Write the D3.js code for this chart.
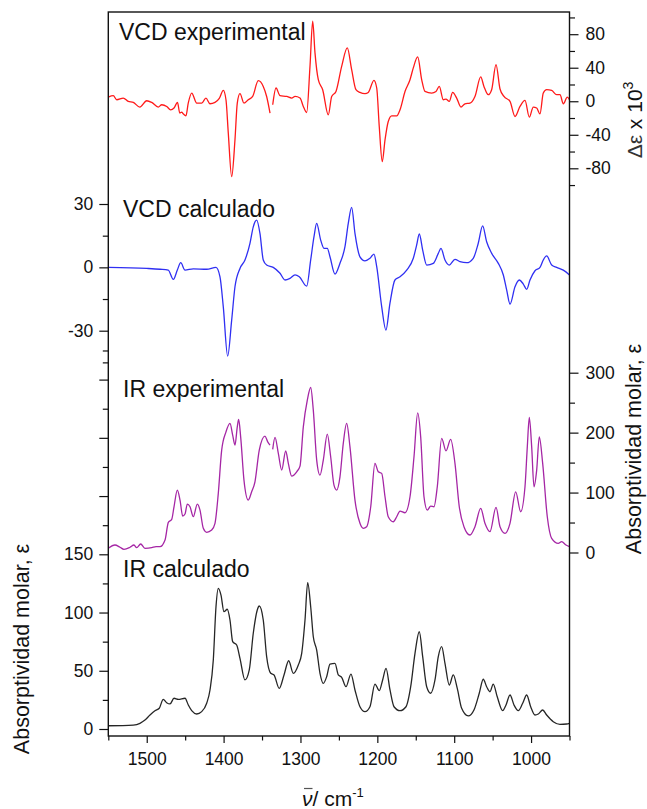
<!DOCTYPE html>
<html>
<head>
<meta charset="utf-8">
<script src="https://cdn.jsdelivr.net/npm/d3@7"></script>
<style>
  html, body { margin: 0; padding: 0; background: #fff; }
  svg { display: block; font-family: "Liberation Sans", Arial, Helvetica, sans-serif; }
</style>
</head>
<body>
<svg id="chart" width="647" height="809"></svg>
<script>
// Spectra as [wavenumber (cm-1), value]; a null value marks a break in the trace.
const vcdExperimental = [
  [1550,5],[1543.5,6.6],[1539,1.8],[1530.5,3.8],[1524,-0.2],[1517.5,-1.4],[1509,-6.9],[1500,0.6],
  [1493.5,-1.4],[1485,-6.9],[1480.5,-4.2],[1474,-6.2],[1469,-10.2],[1464.5,-8.1],[1460,-1.4],
  [1457,-14.1],[1454.5,-12.9],[1452.5,-15],[1449,-17.4],[1446,-2.2],[1441.5,9.8],[1435,-2.2],
  [1428.5,-2.2],[1423,3.8],[1417.7,-3],[1411.2,-1.4],[1405.6,3.4],[1400.4,12.9],[1396.9,1.8],
  [1393.9,-38],[1389.5,-90],[1385.2,-46],[1382.2,-2.2],[1378.7,9],[1373.5,-2.2],[1367.9,1.8],
  [1362.2,5.7],[1354.9,24.5],[1348.4,17.7],[1344,5.7],[1339.6,-14.1],[1338,null],[1336.1,-4.2],
  [1331.8,15.8],[1326.6,6.6],[1317.9,5.7],[1311.4,3.8],[1307.1,5.7],[1300.6,3.8],[1296.3,-6.2],
  [1291.9,-13.4],[1287.6,41.7],[1284.1,95.6],[1281.1,57.7],[1276.8,25.7],[1271.1,13.8],
  [1263.8,-16.2],[1259.4,5.7],[1253.8,11.7],[1246.4,41.7],[1239.1,63.7],[1233.4,37.7],
  [1227.8,13.8],[1222.6,10.5],[1216.1,9],[1211.8,10.5],[1204.4,24.9],[1200.8,15.8],
  [1197.5,-30.2],[1193.6,-72],[1190,-46],[1185.8,-24.2],[1181.3,-17.4],[1174.8,-17.4],
  [1170.5,-10.2],[1164,11.7],[1157.5,25.7],[1153.2,39.8],[1147.5,52.9],[1142.3,25.7],[1138,11.7],
  [1129.3,9.8],[1123.7,11.7],[1119.4,17.7],[1114.2,1.8],[1110.7,2.6],[1106.4,-0.2],[1102,10.5],
  [1096.8,3.8],[1091.2,-6.9],[1086,-3],[1079.5,-2.2],[1073,5.7],[1065.5,29],[1061.3,17.7],
  [1055.7,7.8],[1051.3,13.8],[1045.6,43.7],[1040.4,14.6],[1035.2,5.7],[1027.4,-0.2],
  [1020.9,-18.2],[1014.4,-6.2],[1007.9,1],[1002.3,-18.9],[997.1,-6.9],[992.7,-8.1],[988.4,-15],
  [984.1,9.8],[979.7,13.8],[973.2,12.9],[966.7,7.8],[962.4,7.8],[958,-3],[952.9,5],[950,1.8]
];

const vcdCalculated = [
  [1550,0],[1500,-0.5],[1482.7,-0.9],[1472,-1.3],[1465.4,-5.7],[1460.2,-1.3],[1455.8,2.2],
  [1450.2,-1.3],[1439.4,-0.7],[1422,-0.9],[1409.9,0],[1404.7,-4.5],[1400.4,-18.7],[1394.7,-42],
  [1389.5,-25],[1385.2,-9.2],[1378.7,-0.5],[1372.2,3.5],[1365.7,11.4],[1361.4,19.2],[1357,22.4],
  [1352.7,16.1],[1348.4,3.5],[1344,1.1],[1335.4,0],[1326.6,-2.8],[1320.1,-6],[1313.6,-5.2],
  [1307.1,-3.6],[1301.5,-4.5],[1291.9,-8.9],[1286.7,3.5],[1282.4,14.5],[1278.9,20.8],
  [1273.7,12.9],[1269.4,9],[1265.1,9],[1261.6,5],[1255.1,-3.2],[1248.6,1.9],[1242.1,9.8],
  [1237.8,20.8],[1233.4,28.4],[1229.1,16.1],[1222.6,5],[1216.1,3.1],[1209.6,4.3],[1204.4,6.3],
  [1200.8,0.3],[1194.3,-18.7],[1188.8,-29.7],[1183.6,-17.1],[1177.1,-6],[1170.5,-4.5],
  [1161.8,-1.3],[1153.2,4.3],[1148.8,10.6],[1145.4,15.8],[1141,8.2],[1135.8,1.1],[1127.2,1.9],
  [1120.7,6.6],[1117.2,9],[1112,3.5],[1106.4,1.1],[1099,3.8],[1092.5,2.7],[1083.8,2.2],
  [1075.2,4.3],[1068.7,11.4],[1063,19.6],[1057.8,12.1],[1051.2,6.6],[1042.6,1.9],[1036.1,-3.6],
  [1031.7,-10.8],[1027.4,-17.4],[1020.9,-9.2],[1015.3,-6],[1010.1,-7.9],[1005.7,-10.4],
  [1001.4,-6],[994.9,-1.6],[988.4,0],[984.1,3.5],[979.7,5.4],[973.2,1.1],[966.7,0],[958.1,-1.3],
  [950,-3.6]
];

const irExperimental = [
  [1550,7],[1541.3,12.5],[1534.8,8.7],[1529.6,5.3],[1521.8,8.7],[1516.6,12.5],[1513.1,8],
  [1507.9,14.2],[1502.3,7],[1493.5,8],[1487.9,9.7],[1482.7,9.7],[1476.2,20.8],[1471.9,50.3],
  [1467.5,55.3],[1464.5,76.3],[1460.2,104],[1456.7,87.5],[1453.2,60.8],[1450.2,64.2],
  [1447.2,80.8],[1443.7,76.3],[1439.4,59.7],[1434.2,80.8],[1430.7,70.8],[1426.4,40.3],
  [1422,33.7],[1415.5,37.5],[1411.2,48.7],[1406.9,98.7],[1402.5,170.8],[1396.9,201.3],
  [1391.7,215.3],[1388.2,195.8],[1385.2,179.2],[1382.2,209.7],[1380.4,222],[1377.8,193],
  [1373.5,120.8],[1367.9,87.5],[1363.5,101.3],[1359.2,118],[1353.6,170.8],[1346.2,194.2],
  [1342.6,184.7],[1339.6,179.2],[1338,null],[1336.1,172],[1333.1,192],[1328.8,165.3],
  [1324.4,137.5],[1319.2,169.7],[1315.8,148.7],[1311.4,127.5],[1304.9,134.7],[1300.6,144.2],
  [1296.3,209.7],[1291.1,254.2],[1286.7,275.3],[1283.3,237.5],[1278.9,154.2],[1274.6,129.2],
  [1270.3,154.2],[1265.1,197.5],[1260.7,159.7],[1256.4,112.5],[1252.9,104.2],[1248.6,126.3],
  [1244.3,182],[1239.9,215.3],[1235.6,176.3],[1229.1,87.5],[1222.6,48.7],[1218.3,40.3],
  [1213.9,43],[1208.6,76.3],[1203.1,148.7],[1198.8,134.7],[1194.3,132],[1190,93],[1185.8,59.7],
  [1179.2,51.3],[1174.8,59.7],[1170.5,69.2],[1164,66.3],[1157.5,93],[1152.3,159.7],[1147.5,233],
  [1143.6,193],[1139.3,93],[1135,70.8],[1130.6,77.5],[1126.3,76.3],[1122,109.7],[1116.3,190.3],
  [1110.7,169.7],[1104.6,188.7],[1099,148.7],[1093.4,76.3],[1087.3,43],[1079.5,29.2],[1073,43],
  [1065.5,73.7],[1060,48.7],[1053.5,34.7],[1045.6,75.3],[1040.4,43],[1033.9,32],[1027.4,48.7],
  [1020,101.3],[1013.5,68],[1007.9,109.7],[1004.9,176.3],[1002.3,225.3],[999.2,176.3],
  [996.2,109.7],[992.7,137.5],[989.3,193],[984.9,148.7],[978.9,59.7],[973.2,23.7],[964.6,15.3],
  [960.2,18],[954.6,12.5],[950,9.7]
];

const irCalculated = [
  [1550,2.8],[1517.5,3.4],[1508.8,4.9],[1502.3,7.7],[1495.8,12],[1489.3,15.7],[1483.7,17.8],
  [1478.5,25.5],[1474.1,22.6],[1469.7,21.5],[1464.5,26.4],[1458.9,25.5],[1450.2,26.4],
  [1445.9,20.6],[1441.5,15.7],[1435,12.9],[1428.5,14.9],[1422,22.1],[1417.7,33.5],[1413.4,59.2],
  [1409.9,105],[1406.9,120.8],[1403.4,115],[1399.5,100.7],[1395.2,102.8],[1391.7,93.6],
  [1388.2,75],[1383,72.1],[1378.7,60.7],[1372.2,42.1],[1366.6,50.7],[1361.4,82.2],[1356.2,102.2],
  [1353.6,105.6],[1348.4,93.6],[1344,62.1],[1338.7,47.8],[1334.4,46.4],[1327.6,34.9],
  [1321.4,46.4],[1315.3,58.6],[1309.3,47.8],[1302.8,55],[1298.4,65],[1294.1,93.6],[1290.6,125.6],
  [1286.7,105],[1283.3,79.2],[1278.9,67.8],[1274.6,47.8],[1270.3,39.2],[1265.9,44.9],
  [1261.6,55.8],[1255.1,56.4],[1250.8,46.4],[1246.4,44.4],[1240.8,36.3],[1234.3,47.2],
  [1229.1,33.5],[1222.6,19.1],[1216.1,14.9],[1209.6,19.1],[1203.1,38.6],[1197.5,32.9],
  [1193.1,42.1],[1188.7,52.1],[1183.5,33.5],[1178.3,19.1],[1170.5,15.7],[1162.7,19.1],
  [1156.6,36.3],[1151,65],[1145.4,83.5],[1141,62.1],[1135.8,36.3],[1130.6,30.7],[1125,42.1],
  [1120.7,62.1],[1116.3,70.7],[1112,56.4],[1106.4,37.8],[1101.2,46.4],[1096,34.9],[1090.3,17.8],
  [1081.7,11.2],[1074.3,16.3],[1067.4,30.7],[1062.2,42.7],[1057.8,36.3],[1053.5,32],
  [1049.2,38.6],[1044,27.7],[1036.9,15.7],[1032.6,20.6],[1027.4,29.2],[1022.2,20.6],
  [1016.6,15.7],[1010.9,22.1],[1005.7,29.2],[1000.5,19.1],[994.9,12],[990.6,12.9],[984.9,16.3],
  [979.7,12],[971.1,6.3],[962.4,4],[953.7,4.3],[950,4.9]
];

// Tick values
const wavenumberTicks = [1500, 1400, 1300, 1200, 1100, 1000];
const wavenumberMinorTicks = [1550, 1450, 1350, 1250, 1150, 1050, 950];
const vcdExpTicks = [-80, -40, 0, 40, 80];
const vcdExpMinorTicks = [-100, -60, -20, 20, 60, 100];
const vcdCalcTicks = [-30, 0, 30];
const vcdCalcMinorTicks = [-45, -15, 15];
const irExpTicks = [0, 100, 200, 300];
const irExpMinorTicks = [50, 150, 250];
const irCalcTicks = [0, 50, 100, 150];
const irCalcUnlabeledTicks = [200, 250, 300];
const irCalcMinorTicks = [25, 75, 125, 175, 225, 275, 325];

const panelTitles = ["VCD experimental", "VCD calculado", "IR experimental", "IR calculado"];

// ---------------------------------------------------------------
const svg = d3.select("#chart");
const frame = { left: 108.3, right: 569.5, top: 12, bottom: 736 };
const ink = "#111";
const fontTick = 17.5;

const x = d3.scaleLinear().domain([1550, 950]).range([frame.left, frame.right]);

const yVcdExp  = d3.scaleLinear().domain([-80, 80]).range([168.3, 34.2]);
const yVcdCalc = d3.scaleLinear().domain([-30, 30]).range([330.7, 204]);
const yIrExp   = d3.scaleLinear().domain([0, 300]).range([552.5, 372.7]);
const yIrCalc  = d3.scaleLinear().domain([0, 150]).range([729, 554.3]);

const traces = [
  { data: vcdExperimental, y: yVcdExp,  color: "#ff1a1a" },
  { data: vcdCalculated,   y: yVcdCalc, color: "#2f2ff2" },
  { data: irExperimental,  y: yIrExp,   color: "#a526a5" },
  { data: irCalculated,    y: yIrCalc,  color: "#262626" }
];

// Spectral traces
traces.forEach(t => {
  const line = d3.line()
    .defined(d => d[1] !== null)
    .x(d => x(d[0]))
    .y(d => t.y(d[1]))
    .curve(d3.curveMonotoneX);
  svg.append("path")
    .datum(t.data)
    .attr("fill", "none")
    .attr("stroke", t.color)
    .attr("stroke-width", 1.3)
    .attr("stroke-linejoin", "round")
    .attr("d", line);
});

// Axis helper: draws ticks with d3 axes, frame lines are drawn separately
function drawAxis(gen, transform, values, size, labeled, padding) {
  const g = svg.append("g")
    .attr("transform", transform)
    .call(gen.tickValues(values).tickSize(size).tickPadding(padding)
      .tickFormat(labeled ? (d => String(d)) : () => ""));
  g.select(".domain").remove();
  g.selectAll(".tick line").attr("stroke", ink).attr("stroke-width", 1.2);
  g.selectAll(".tick text")
    .attr("fill", ink)
    .style("font-size", fontTick + "px")
    .style("font-family", '"Liberation Sans", Arial, sans-serif');
  g.attr("font-size", null).attr("font-family", null);
  return g;
}

// Bottom wavenumber axis
drawAxis(d3.axisBottom(x), `translate(0,${frame.bottom})`, wavenumberTicks, 7, true, 10);
drawAxis(d3.axisBottom(x), `translate(0,${frame.bottom})`, wavenumberMinorTicks, 4.5, false, 0);

// Right axes: VCD experimental and IR experimental
drawAxis(d3.axisRight(yVcdExp), `translate(${frame.right},0)`, vcdExpTicks, 9, true, 7);
drawAxis(d3.axisRight(yVcdExp), `translate(${frame.right},0)`, vcdExpMinorTicks, 5.5, false, 0);
drawAxis(d3.axisRight(yIrExp), `translate(${frame.right},0)`, irExpTicks, 9, true, 7);
drawAxis(d3.axisRight(yIrExp), `translate(${frame.right},0)`, irExpMinorTicks, 5.5, false, 0);

// Left axes: VCD calculado and IR calculado
drawAxis(d3.axisLeft(yVcdCalc), `translate(${frame.left},0)`, vcdCalcTicks, 9, true, 6);
drawAxis(d3.axisLeft(yVcdCalc), `translate(${frame.left},0)`, vcdCalcMinorTicks, 5.5, false, 0);
drawAxis(d3.axisLeft(yIrCalc), `translate(${frame.left},0)`, irCalcTicks, 9, true, 6);
drawAxis(d3.axisLeft(yIrCalc), `translate(${frame.left},0)`, irCalcUnlabeledTicks, 9, false, 0);
drawAxis(d3.axisLeft(yIrCalc), `translate(${frame.left},0)`, irCalcMinorTicks, 5.5, false, 0);

// Frame
svg.append("rect")
  .attr("x", frame.left).attr("y", frame.top)
  .attr("width", frame.right - frame.left)
  .attr("height", frame.bottom - frame.top)
  .attr("fill", "none").attr("stroke", ink).attr("stroke-width", 1.4);

// Panel titles
const titlePos = [[119, 39.5], [123, 216.5], [123, 397], [123, 576.5]];
panelTitles.forEach((t, i) => {
  svg.append("text")
    .attr("x", titlePos[i][0]).attr("y", titlePos[i][1])
    .attr("fill", ink)
    .style("font-size", "23px")
    .text(t);
});

// Axis titles
svg.append("text")
  .attr("transform", "translate(28.5,649) rotate(-90)")
  .attr("text-anchor", "middle")
  .attr("fill", ink)
  .style("font-size", "21.5px")
  .text("Absorptividad molar, ε");

svg.append("text")
  .attr("transform", "translate(640.5,449) rotate(-90)")
  .attr("text-anchor", "middle")
  .attr("fill", ink)
  .style("font-size", "21.5px")
  .text("Absorptividad molar, ε");

const dLabel = svg.append("text")
  .attr("transform", "translate(642,120) rotate(-90)")
  .attr("text-anchor", "middle")
  .attr("fill", ink)
  .style("font-size", "21px");
dLabel.append("tspan").attr("fill", "#333").text("Δε");
dLabel.append("tspan").text(" x 10");
dLabel.append("tspan").attr("dy", -9).style("font-size", "14px").text("3");

// Wavenumber title with overbar on nu
const xLabel = svg.append("text")
  .attr("x", 302).attr("y", 806)
  .attr("fill", ink)
  .style("font-size", "21px");
xLabel.append("tspan").style("font-style", "italic").text("ν");
xLabel.append("tspan").text("/ cm");
xLabel.append("tspan").attr("dy", -9).style("font-size", "13px").text("-1");

const nuBox = xLabel.node().getExtentOfChar(0);
svg.append("line")
  .attr("x1", nuBox.x + 2).attr("x2", nuBox.x + nuBox.width)
  .attr("y1", nuBox.y + 1.5).attr("y2", nuBox.y + 1.5)
  .attr("stroke", "#555").attr("stroke-width", 1.2);
</script>
</body>
</html>
